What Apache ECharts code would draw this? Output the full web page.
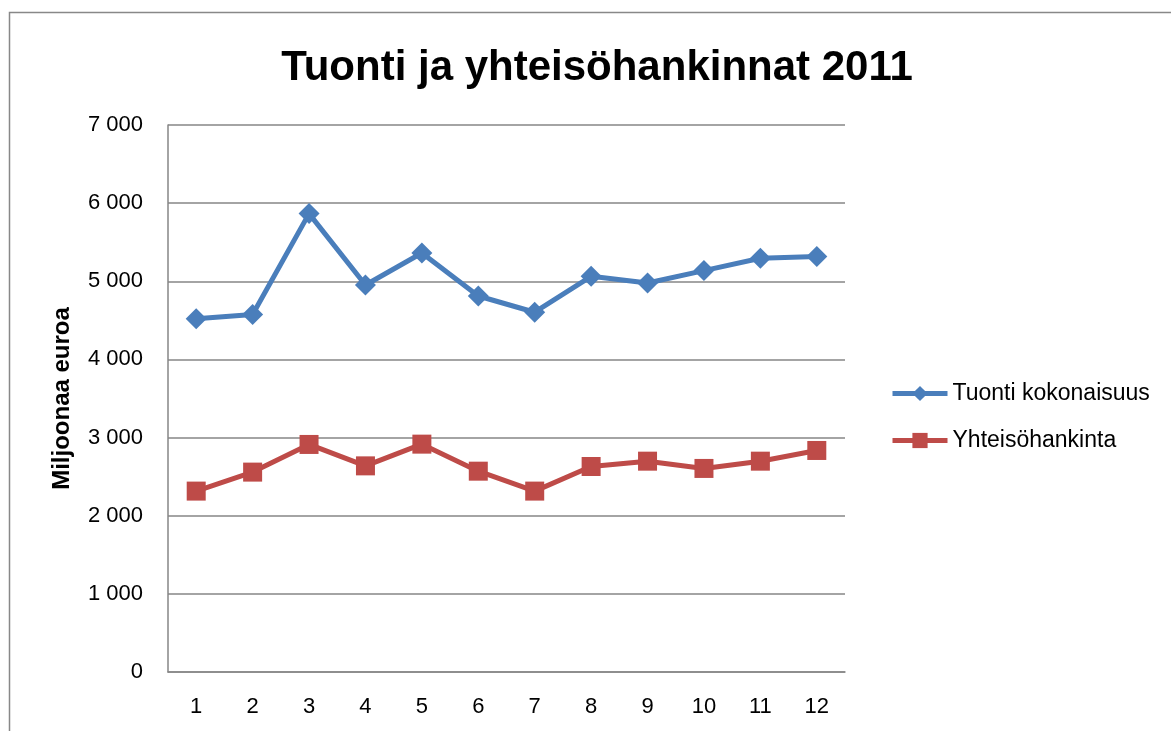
<!DOCTYPE html>
<html><head><meta charset="utf-8">
<script src="https://cdn.jsdelivr.net/npm/echarts@6/dist/echarts.min.js"></script>
<style>html,body{margin:0;padding:0;background:#fff}#c{width:1171px;height:731px}</style>
</head><body><div id="c"></div>
<script>
const categories = ['1','2','3','4','5','6','7','8','9','10','11','12'];
const tuonti = [4520, 4574, 5866, 4953, 5362, 4812, 4604, 5064, 4978, 5137, 5294, 5316];
const yhteiso = [2315, 2558, 2912, 2638, 2916, 2570, 2315, 2630, 2698, 2605, 2698, 2835];
const seriesNames = ['Tuonti kokonaisuus', 'Yhteisöhankinta'];
const titleText = 'Tuonti ja yhteisöhankinnat 2011';
const yAxisName = 'Miljoonaa euroa';

const chart = echarts.init(document.getElementById('c'));
const font = 'Liberation Sans, Arial, sans-serif';
chart.setOption({
  animation: false,
  textStyle: {fontFamily: font},
  graphic: [{type: 'rect', shape: {x: 9.5, y: 12.5, width: 1300, height: 900},
    style: {fill: 'none', stroke: '#888', lineWidth: 1.5}}],
  title: {text: titleText, left: 592, top: 42, textAlign: 'center',
    textStyle: {fontSize: 42, fontWeight: 'bold', color: '#000', fontFamily: font}},
  legend: {orient: 'vertical', left: 885, top: 377, itemGap: 24, itemWidth: 55, itemHeight: 19,
    textStyle: {fontSize: 23, color: '#000', fontFamily: font},
    lineStyle: {width: 5},
    data: seriesNames},
  grid: {left: 168, right: 326, top: 125, bottom: 59, containLabel: false},
  xAxis: {type: 'category', data: categories, boundaryGap: true,
    axisLine: {lineStyle: {color: '#868686', width: 1.5}},
    axisTick: {show: false},
    axisLabel: {fontSize: 22, color: '#000', margin: 24}},
  yAxis: {type: 'value', min: 0, max: 7000, interval: 1000,
    name: yAxisName, nameLocation: 'middle', nameGap: 94, nameRotate: 90,
    nameTextStyle: {fontSize: 24, fontWeight: 'bold', color: '#000'},
    axisLine: {show: true, lineStyle: {color: '#868686', width: 1.5}},
    axisTick: {show: false},
    splitLine: {lineStyle: {color: '#868686', width: 1.5}},
    axisLabel: {fontSize: 22, color: '#000', margin: 25,
      formatter: v => v === 0 ? '0' : String(v).replace(/\B(?=(\d{3})+(?!\d))/g, ' ')}},
  series: [
    {name: seriesNames[0], type: 'line', data: tuonti, symbol: 'diamond', symbolSize: 21,
      lineStyle: {color: '#4A7EBB', width: 5}, itemStyle: {color: '#4A7EBB'}},
    {name: seriesNames[1], type: 'line', data: yhteiso, symbol: 'rect', symbolSize: 19,
      lineStyle: {color: '#BE4B48', width: 5}, itemStyle: {color: '#BE4B48'}}
  ]
});
</script></body></html>
